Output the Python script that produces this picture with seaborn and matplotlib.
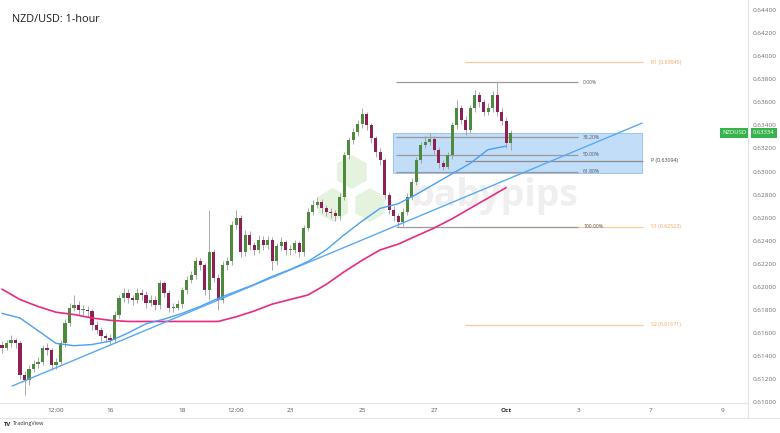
import numpy as np
import pandas as pd
import seaborn as sns
import matplotlib.pyplot as plt
from matplotlib.patches import Rectangle, RegularPolygon
from matplotlib.lines import Line2D

# 3-hour bars from Sep 12 (weekends squeezed out), x axis = trading days from Sep 16
opens = [.6150, .6147, .6151, .6154, .6151, .6124, .6119, .6129, .6133, .6135,
         .6147, .6145, .6132, .6135, .6151, .6169, .6182, .6184, .6180, .6180,
         .6179, .6167, .6163, .6157, .6156, .6154, .6176, .6190, .6195, .6190,
         .6189, .6195, .6193, .6186, .6189, .6184, .6203, .6195, .6182, .6182,
         .6185, .6197, .6206, .6210, .6222, .6219, .6197, .6230, .6208, .6189,
         .6219, .6222, .6254, .6260, .6230, .6245, .6236, .6232, .6241, .6236,
         .6241, .6222, .6235, .6239, .6232, .6232, .6238, .6230, .6251, .6265,
         .6271, .6274, .6268, .6265, .6264, .6261, .6278, .6314, .6327, .6334,
         .6341, .6350, .6340, .6329, .6317, .6310, .6280, .6267, .6261, .6256,
         .6265, .6278, .6291, .6310, .6323, .6326, .6328, .6319, .6307, .6304,
         .6314, .6340, .6355, .6345, .6336, .6355, .6366, .6360, .6352, .6355,
         .6366, .6352, .6344, .6325]
closes = [.6147, .6151, .6154, .6151, .6124, .6119, .6129, .6133, .6135, .6147,
          .6145, .6132, .6135, .6151, .6169, .6182, .6184, .6180, .6180, .6179,
          .6167, .6163, .6157, .6156, .6154, .6176, .6190, .6195, .6190, .6189,
          .6195, .6193, .6186, .6189, .6184, .6203, .6195, .6182, .6182, .6185,
          .6197, .6206, .6210, .6222, .6219, .6197, .6230, .6208, .6189, .6219,
          .6222, .6254, .6260, .6230, .6245, .6236, .6232, .6241, .6236, .6241,
          .6222, .6235, .6239, .6232, .6232, .6238, .6230, .6251, .6265, .6271,
          .6274, .6268, .6265, .6264, .6261, .6278, .6314, .6327, .6334, .6341,
          .6350, .6340, .6329, .6317, .6310, .6280, .6267, .6261, .6256, .6265,
          .6278, .6291, .6310, .6323, .6326, .6328, .6319, .6307, .6304, .6314,
          .6340, .6355, .6345, .6336, .6355, .6366, .6360, .6352, .6355, .6366,
          .6352, .6344, .6325, .63334]
highs = [.6153, .6154, .6158, .6156, .6153, .6127, .6132, .6137, .6139, .6150,
         .6151, .6147, .6138, .6154, .6172, .6186, .6193, .6188, .6184, .6183,
         .6181, .6170, .6165, .6160, .6159, .6179, .6193, .6199, .6198, .6193,
         .6199, .6198, .6196, .6193, .6192, .6206, .6205, .6197, .6186, .6189,
         .6200, .6209, .6214, .6226, .6225, .6221, .6267, .6233, .6211, .6222,
         .6226, .6257, .6267, .6262, .6249, .6248, .6239, .6245, .6244, .6244,
         .6243, .6238, .6243, .6241, .6236, .6241, .6240, .6254, .6268, .6275,
         .6278, .6276, .6271, .6268, .6267, .6281, .6317, .6330, .6338, .6345,
         .6355, .6352, .6342, .6331, .6320, .6312, .6282, .6270, .6264, .6268,
         .6281, .6294, .6313, .6326, .6331, .6333, .6331, .6321, .6310, .6317,
         .6343, .6362, .6358, .6348, .6358, .6371, .6369, .6363, .6359, .6370,
         .6378, .6355, .6347, .6336]
lows = [.6143, .6145, .6148, .6147, .6120, .6106, .6115, .6126, .6130, .6132,
        .6141, .6128, .6129, .6133, .6148, .6166, .6179, .6176, .6176, .6174,
        .6163, .6159, .6153, .6152, .6150, .6151, .6173, .6187, .6186, .6184,
        .6186, .6189, .6182, .6183, .6180, .6181, .6191, .6178, .6178, .6180,
        .6182, .6194, .6203, .6207, .6215, .6193, .6189, .6204, .6180, .6186,
        .6215, .6219, .6250, .6226, .6227, .6232, .6228, .6229, .6232, .6233,
        .6215, .6219, .6232, .6228, .6228, .6229, .6226, .6227, .6248, .6262,
        .6268, .6264, .6261, .6260, .6257, .6258, .6275, .6311, .6324, .6331,
        .6338, .6336, .6325, .6313, .6306, .6276, .6263, .6257, .6252, .6253,
        .6262, .6275, .6288, .6307, .6320, .6323, .6315, .6303, .6301, .6302,
        .6311, .6337, .6341, .6332, .6333, .6352, .6356, .6348, .6349, .6352,
        .6348, .6340, .6320, .6319]
bar_hours = 3
start_day = -3

# moving averages, one value every 4th bar
ma100 = [.6177, .6173, .6162, .6151, .6149, .6150, .6153, .6160, .6168, .6172,
         .6177, .6183, .6190, .6196, .6202, .6209, .6215, .6222, .6232, .6245,
         .6257, .6268, .6272, .6280, .6289, .6298, .6307, .6319, .6322]
ma200 = [.6198, .6189, .6183, .6178, .6176, .6173, .6171, .6170, .6170, .6170,
         .6170, .6170, .6170, .6174, .6179, .6185, .6189, .6193, .6202, .6213,
         .6223, .6232, .6237, .6244, .6251, .6259, .6268, .6277, .6286]

trend_days = [-2.72, 14.78]
trend_prices = [0.6114, 0.6342]

fib_labels = ["0.00%", "38.20%", "50.00%", "61.80%", "100.00%"]
fib_prices = [0.63776, 0.63296, 0.63147, 0.62999, 0.62519]
pivot_names = ["R1", "P", "S1", "S2"]
pivot_prices = [0.63946, 0.63094, 0.62523, 0.61671]
zone = (0.6299, 0.6333)
last_price = 0.63334

day_ticks = [-1.5, 0, 2, 3.5, 5, 7, 9, 11, 13, 15, 17]
day_labels = ["12:00", "16", "18", "12:00", "23", "25", "27", "Oct", "3", "7", "9"]

df = pd.DataFrame({"open": opens, "high": highs, "low": lows, "close": closes})
df["day"] = start_day + np.arange(len(df)) * bar_hours / 24
ma_df = pd.DataFrame({"day": df["day"].values[::4], "ma100": ma100, "ma200": ma200})

sns.set_theme(style="white")
plt.rcParams["font.family"] = ["Open Sans", "DejaVu Sans"]

W, H = 780, 433
fig = plt.figure(figsize=(7.8, 4.33), dpi=100)
fig.patch.set_facecolor("white")
ax = fig.add_axes([0, 30 / H, 748 / W, 403 / H])
ax.set_facecolor("none")

# babypips watermark
for cx, cy in [(352, 172), (333, 205), (370, 205)]:
    fig.add_artist(RegularPolygon((cx, H - cy), 6, radius=17, transform=None,
                                  facecolor="#e5f2de", edgecolor="none", zorder=-6))
fig.text(494 / W, 1 - 196 / H, "babypips", fontsize=27, fontweight="bold",
         color="#efefef", ha="center", va="center", zorder=-5)

# fib zone
ax.add_patch(Rectangle((7.86, zone[0]), 14.78 - 7.86, zone[1] - zone[0],
                       facecolor="#b7d7f7", edgecolor="#86b6ea", lw=0.6, alpha=0.85, zorder=1))

# pivots
pcol = ["#fccb9c", "#8a8a8a", "#fccb9c", "#fccb9c"]
tcol = ["#f5a25a", "#444444", "#f5a25a", "#f5a25a"]
ax.hlines(pivot_prices, 9.86, 14.81, colors=pcol, lw=0.9, zorder=2)
for n, p, c in zip(pivot_names, pivot_prices, tcol):
    ax.text(15.03, p, f"{n} ({p:.5f})", fontsize=3.8, color=c, va="center")

# fibonacci levels
ax.hlines(fib_prices, 7.944, 13.0, colors="#9a9a9a", lw=0.9, zorder=2)
for lab, p in zip(fib_labels, fib_prices):
    ax.text(13.14, p, lab, fontsize=3.6, color="#555555", va="center")

# candles
up = df["close"] >= df["open"]
ax.vlines(df["day"], df["low"], df["high"], color="#9c9c9c", lw=0.6, zorder=3)
body = np.maximum((df["close"] - df["open"]).abs(), 0.00004)
ax.bar(df["day"], body, bottom=np.minimum(df["open"], df["close"]), width=0.085,
       color=np.where(up, "#4e8a3e", "#8e2054"), lw=0, zorder=4)

# moving averages and trendline
sns.lineplot(data=ma_df, x="day", y="ma200", ax=ax, color="#ea2a7e", lw=1.2, zorder=5)
sns.lineplot(data=ma_df, x="day", y="ma100", ax=ax, color="#4aa0f2", lw=1.0, zorder=5)
sns.lineplot(x=trend_days, y=trend_prices, ax=ax, color="#5aa8f6", lw=1.0, zorder=5)

ax.set_xlim(-3.056, 17.72)
ax.set_ylim(0.60993, 0.64487)
ax.yaxis.tick_right()
ax.set_yticks(np.arange(0.610, 0.6441, 0.002))
ax.set_yticklabels([f"{v:.5f}" for v in np.arange(0.610, 0.6441, 0.002)])
ax.set_xticks(day_ticks)
ax.set_xticklabels(day_labels)
ax.tick_params(axis="y", length=0, pad=3, labelsize=4.6, labelcolor="#6a6d78")
ax.tick_params(axis="x", length=0, pad=3.5, labelsize=4.6, labelcolor="#555555")
for t in ax.get_xticklabels():
    if t.get_text() == "Oct":
        t.set_fontweight("bold")
        t.set_color("#333333")
ax.set_xlabel("")
ax.set_ylabel("")
for s in ["left", "top"]:
    ax.spines[s].set_visible(False)
for s in ["right", "bottom"]:
    ax.spines[s].set_color("#e0e3eb")
    ax.spines[s].set_linewidth(0.8)

fig.add_artist(Line2D([0, 1], [1 - 418 / H] * 2, transform=fig.transFigure, color="#e0e3eb", lw=0.8))
fig.add_artist(Line2D([748 / W] * 2, [1 - 418 / H, 30 / H], transform=fig.transFigure, color="#e0e3eb", lw=0.8))

# title and tags
fig.text(12 / W, 1 - 20 / H, "NZD/USD: 1-hour", fontsize=7.8, color="#1e1e1e", va="center")
tag_y = 1 - 133 / H
fig.text(764 / W, tag_y, f"{last_price:.5f}", fontsize=4.2, color="white", ha="center", va="center",
         bbox=dict(boxstyle="square,pad=0.35", fc="#38b24a", ec="none"))
fig.text(734 / W, tag_y, "NZDUSD", fontsize=4.2, color="white", ha="center", va="center",
         bbox=dict(boxstyle="square,pad=0.35", fc="#38b24a", ec="none"))
fig.text(4 / W, 1 - 424 / H, "TV", fontsize=4.2, fontweight="bold", color="#222222", va="center")
fig.text(13 / W, 1 - 424 / H, "TradingView", fontsize=4.0, color="#333333", va="center")

fig.savefig("out.png", dpi=100)
